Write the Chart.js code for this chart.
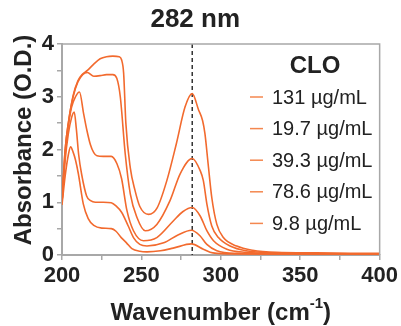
<!DOCTYPE html>
<html>
<head>
<meta charset="utf-8">
<script src="https://cdn.jsdelivr.net/npm/chart.js@4.4.1/dist/chart.umd.min.js"></script>
<style>
  html, body { margin: 0; padding: 0; background: #fff; }
  #wrap { width: 401px; height: 326px; }
</style>
</head>
<body>
<div id="wrap"><canvas id="spectra" width="401" height="326"></canvas></div>
<script>
// Absorbance spectra of CLO at several concentrations
// each pair is [wavenumber, absorbance]

const clo131 = [
  [200, 1.0], [202, 2.0], [204, 2.5], [207, 3.02], [210, 3.3], [213, 3.43], [216, 3.5],
  [220, 3.62], [224, 3.72], [228, 3.76], [232, 3.77], [236, 3.76], [237.5, 3.7],
  [238.8, 3.45], [240.2, 2.5], [243, 1.65], [246, 1.22], [249, 0.92], [254.5, 0.77],
  [260, 0.9], [266, 1.41], [272, 2.11], [277.5, 2.81], [282, 3.06], [286, 2.75],
  [288.5, 2.55], [290, 2.3], [292, 1.73], [294.3, 1.09], [297.5, 0.58], [301.6, 0.33],
  [310, 0.17], [320, 0.09], [335, 0.05], [360, 0.04], [400, 0.03]
];

const clo19_7 = [
  [200, 1.0], [202, 1.8], [204, 2.3], [206, 2.6], [207.7, 2.71], [209, 2.4], [210.5, 1.9],
  [212.3, 1.54], [215.5, 1.12], [218, 1.03], [221, 1.0], [226, 1.0], [231, 0.99],
  [234, 0.93], [237.5, 0.81], [241.7, 0.55], [245, 0.33], [249, 0.2], [253.5, 0.17],
  [264, 0.23], [273, 0.38], [281.5, 0.47], [287, 0.36], [291.2, 0.2], [297.5, 0.08],
  [310, 0.03], [340, 0.02], [400, 0.01]
];

const clo39_3 = [
  [200, 1.0], [202, 1.9], [204, 2.45], [206, 2.8], [208.5, 3.0], [211, 3.09], [213.6, 2.68],
  [215.7, 2.36], [217.8, 2.1], [220, 1.94], [222, 1.88], [226, 1.87], [231, 1.87],
  [234.6, 1.73], [237.5, 1.45], [240.9, 0.84], [245, 0.46], [251.3, 0.27], [259.7, 0.33],
  [270.2, 0.65], [276, 0.82], [282, 0.9], [287, 0.74], [291.2, 0.46], [295.4, 0.27],
  [303.8, 0.11], [316, 0.05], [340, 0.02], [400, 0.01]
];

const clo78_6 = [
  [200, 1.0], [202, 2.0], [204, 2.5], [207, 3.0], [210, 3.28], [213, 3.42], [216, 3.46],
  [220, 3.39], [224, 3.4], [228, 3.42], [232, 3.42], [234.5, 3.35], [236.7, 3.0],
  [239.8, 1.92], [243, 1.16], [247.2, 0.71], [252.4, 0.46], [259.7, 0.58], [268, 1.03],
  [274.4, 1.54], [282, 1.83], [287, 1.6], [289, 1.41], [291.2, 0.97], [294.3, 0.55],
  [298.5, 0.33], [305.8, 0.17], [316, 0.08], [335, 0.04], [400, 0.02]
];

const clo9_8 = [
  [200, 0.95], [202, 1.5], [204, 1.9], [205.4, 2.05], [207, 1.95], [208.5, 1.8],
  [210.3, 1.54], [213.4, 0.97], [216.5, 0.69], [220, 0.56], [225, 0.51], [231, 0.5],
  [234, 0.45], [237.3, 0.33], [240.6, 0.23], [244, 0.12], [249, 0.07], [253.5, 0.06],
  [262, 0.08], [270, 0.13], [281.5, 0.21], [289, 0.11], [295, 0.04], [310, 0.02], [400, 0.01]
];

// legend order as printed in the figure
const seriesLabels = ['131 \u00b5g/mL', '19.7 \u00b5g/mL', '39.3 \u00b5g/mL', '78.6 \u00b5g/mL', '9.8 \u00b5g/mL'];
const seriesData = [clo131, clo19_7, clo39_3, clo78_6, clo9_8];

const xTickLabels = [200, 250, 300, 350, 400];
const yTickLabels = [0, 1, 2, 3, 4];
const markerWavenumber = 282;

const lineColor = '#f26a2e';
const axisColor = '#a8a8a8';
const textColor = '#222';
const fontFamily = '"Liberation Sans", Arial, sans-serif';

const overlay = {
  id: 'overlay',
  beforeDatasetsDraw(chart) {
    const ctx = chart.ctx;
    const area = chart.chartArea;
    const xm = chart.scales.x.getPixelForValue(markerWavenumber);
    ctx.save();
    ctx.strokeStyle = '#333';
    ctx.lineWidth = 1.5;
    ctx.setLineDash([4, 3]);
    ctx.beginPath();
    ctx.moveTo(xm, area.top);
    ctx.lineTo(xm, area.bottom);
    ctx.stroke();
    ctx.restore();
  },
  afterDraw(chart) {
    const ctx = chart.ctx;
    const area = chart.chartArea;
    const xm = chart.scales.x.getPixelForValue(markerWavenumber);
    ctx.save();

    // top and right edges of the frame
    ctx.strokeStyle = axisColor;
    ctx.lineWidth = 1.5;
    ctx.beginPath();
    ctx.moveTo(area.left, area.top);
    ctx.lineTo(area.right, area.top);
    ctx.lineTo(area.right, area.bottom);
    ctx.stroke();

    // title above the dashed marker
    ctx.fillStyle = textColor;
    ctx.textAlign = 'center';
    ctx.textBaseline = 'middle';
    ctx.font = 'bold 26px ' + fontFamily;
    ctx.fillText(markerWavenumber + ' nm', xm + 3, 20);

    // legend heading and entries
    ctx.font = 'bold 24px ' + fontFamily;
    ctx.fillText('CLO', 315, 66);
    ctx.font = '20px ' + fontFamily;
    ctx.textAlign = 'left';
    chart.data.datasets.forEach((ds, i) => {
      const y = 97 + i * 31.6;
      ctx.strokeStyle = '#f4874f';
      ctx.lineWidth = 1.5;
      ctx.beginPath();
      ctx.moveTo(250, y);
      ctx.lineTo(263, y);
      ctx.stroke();
      ctx.fillStyle = textColor;
      ctx.fillText(ds.label, 272, y + 1);
    });

    // y axis title
    ctx.font = 'bold 24px ' + fontFamily;
    ctx.textAlign = 'center';
    ctx.save();
    ctx.translate(24, 140);
    ctx.rotate(-Math.PI / 2);
    ctx.fillText('Absorbance (O.D.)', 0, 0);
    ctx.restore();

    // x axis title with superscript
    const main = 'Wavenumber (cm';
    const sup = '-1';
    const tail = ')';
    ctx.font = 'bold 24px ' + fontFamily;
    const wMain = ctx.measureText(main).width;
    const wTail = ctx.measureText(tail).width;
    ctx.font = 'bold 15px ' + fontFamily;
    const wSup = ctx.measureText(sup).width;
    let x = (area.left + area.right) / 2 - (wMain + wSup + wTail) / 2;
    ctx.textAlign = 'left';
    ctx.textBaseline = 'alphabetic';
    ctx.font = 'bold 24px ' + fontFamily;
    ctx.fillText(main, x, 320);
    x += wMain;
    ctx.font = 'bold 15px ' + fontFamily;
    ctx.fillText(sup, x, 308);
    x += wSup;
    ctx.font = 'bold 24px ' + fontFamily;
    ctx.fillText(tail, x, 320);

    ctx.restore();
  }
};

new Chart(document.getElementById('spectra'), {
  type: 'line',
  data: {
    datasets: seriesData.map((pts, i) => ({
      label: seriesLabels[i],
      data: pts.map(p => ({ x: p[0], y: p[1] })),
      borderColor: lineColor,
      borderWidth: 1.6,
      pointRadius: 0,
      fill: false,
      cubicInterpolationMode: 'monotone'
    }))
  },
  options: {
    responsive: false,
    animation: false,
    layout: { padding: { top: 44, right: 21, left: 0, bottom: 0 } },
    plugins: {
      legend: { display: false },
      tooltip: { enabled: false }
    },
    scales: {
      x: {
        type: 'linear',
        min: 200,
        max: 400,
        afterFit(scale) { scale.height = 71; },
        ticks: {
          stepSize: 25,
          autoSkip: false,
          maxRotation: 0,
          padding: 3,
          color: textColor,
          font: { family: fontFamily, size: 22, weight: 'bold' },
          callback: v => xTickLabels.includes(v) ? String(v) : ''
        },
        grid: { drawOnChartArea: false, drawTicks: true, tickLength: 5, color: axisColor, lineWidth: 1.5 },
        border: { color: axisColor, width: 2 }
      },
      y: {
        min: 0,
        max: 4,
        afterFit(scale) { scale.width = 62; },
        ticks: {
          stepSize: 0.5,
          autoSkip: false,
          padding: 3,
          color: textColor,
          font: { family: fontFamily, size: 22, weight: 'bold' },
          callback: v => yTickLabels.includes(v) ? String(v) : ''
        },
        grid: { drawOnChartArea: false, drawTicks: true, tickLength: 5, color: axisColor, lineWidth: 1.5 },
        border: { color: axisColor, width: 2 }
      }
    }
  },
  plugins: [overlay]
});
</script>
</body>
</html>
